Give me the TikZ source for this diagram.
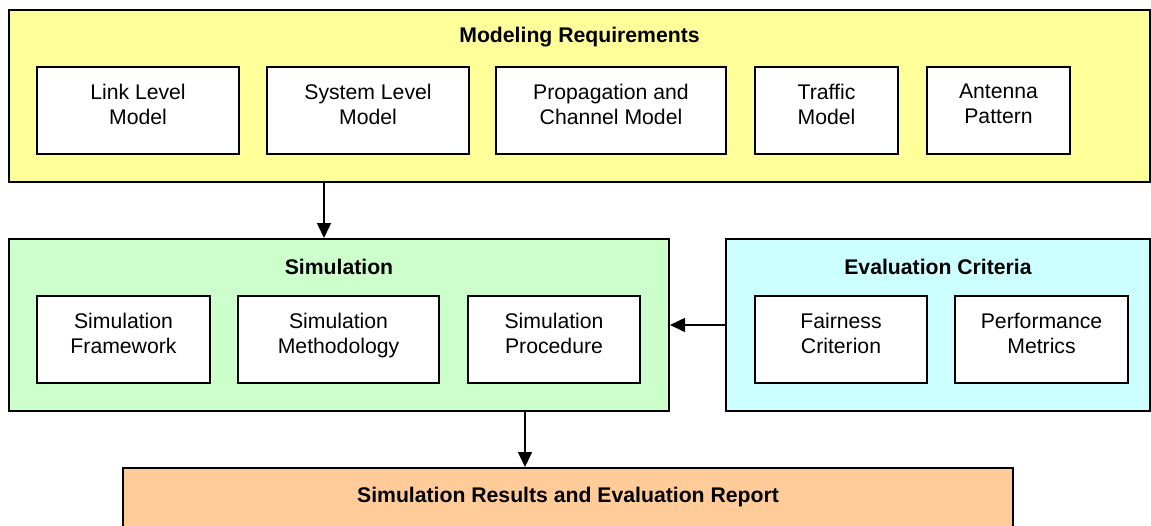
\documentclass[tikz,border=0pt]{standalone}
\usepackage{fontspec}
\setmainfont{Liberation Sans}
\usetikzlibrary{arrows.meta}
\definecolor{reqyellow}{HTML}{FFFF99}
\definecolor{simgreen}{HTML}{CCFFCC}
\definecolor{evacyan}{HTML}{CCFFFF}
\definecolor{reporange}{HTML}{FFCC99}
\tikzset{
  frame/.style={draw,line width=1pt,inner sep=0pt,minimum height=86pt},
  part/.style={draw,fill=white,line width=1pt,inner sep=0pt,align=center,
    minimum height=43.5pt,text depth=6pt},
  title/.style={anchor=base,font=\fontsize{10.6pt}{12.5pt}\selectfont\bfseries},
  >={Triangle[length=7.5pt,width=7pt]}
}
\begin{document}
\begin{tikzpicture}[x=0.5pt,y=-0.5pt,line width=0.8pt,
  every node/.append style={font=\fontsize{10.6pt}{12.5pt}\selectfont}]
\path[use as bounding box,clip] (0,0) rectangle (1151,525);
\node[frame,fill=reqyellow,minimum width=570.5pt] (req) at (579.5,96) {};
\node[title] (reqT) at (579.5,42) {Modeling Requirements};
\node[part,minimum width=101pt] (link) at (138,110) {Link Level\\Model};
\node[part,minimum width=101pt] (sys) at (368,110) {System Level\\Model};
\node[part,minimum width=115pt] (prop) at (611,110) {Propagation and\\Channel Model};
\node[part,minimum width=71.5pt] (traf) at (826.5,110) {Traffic\\Model};
\node[part,minimum width=71.5pt] (ant) at (998.5,110) {Antenna\\Pattern};

\node[frame,fill=simgreen,minimum width=330pt] (sim) at (339,325) {};
\node[title] (simT) at (339,274) {Simulation};
\node[part,minimum width=86.5pt] (simf) at (123.5,339.5) {Simulation\\Framework};
\node[part,minimum width=100.5pt] (simm) at (338.5,339.5) {Simulation\\Methodology};
\node[part,minimum width=86pt] (simp) at (554,339.5) {Simulation\\Procedure};

\node[frame,fill=evacyan,minimum width=212pt] (eva) at (938,325) {};
\node[title] (evaT) at (938,274) {Evaluation Criteria};
\node[part,minimum width=86pt] (fair) at (841,339.5) {Fairness\\Criterion};
\node[part,minimum width=86.5pt] (perf) at (1041.5,339.5) {Performance\\Metrics};

\node[frame,fill=reporange,minimum width=445pt,minimum height=60pt] (rep) at (568,528) {};
\node[title] (repT) at (568,502) {Simulation Results and Evaluation Report};

\draw[->] (req.south -| 324,0) -- (sim.north -| 324,0);
\draw[->] (eva.west) -- (sim.east);
\draw[->] (sim.south -| 525,0) -- (rep.north -| 525,0);
\end{tikzpicture}
\end{document}
